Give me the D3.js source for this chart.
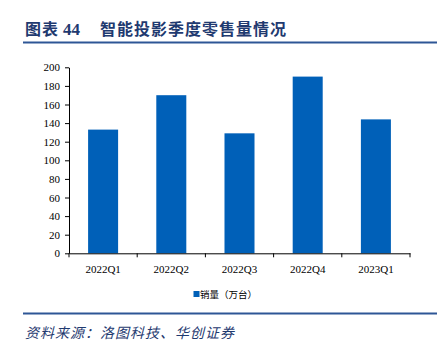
<!DOCTYPE html>
<html><head><meta charset="utf-8">
<script src="https://cdn.jsdelivr.net/npm/d3@7"></script>
<style>body{margin:0;background:#fff}svg{display:block}</style>
</head><body><div id="c"></div>
<script>
const categories = ["2022Q1","2022Q2","2022Q3","2022Q4","2023Q1"];
const sales = [133, 170, 129, 190, 144];
const yTicks = [0,20,40,60,80,100,120,140,160,180,200];
const seriesName = "销量（万台）";
const sourceText = "资料来源：洛图科技、华创证券";

const W = 445, H = 342;
const svg = d3.select("#c").append("svg").attr("width", W).attr("height", H);
const navy = "#1f3a70", lineCol = "#2e5696", barCol = "#0060b8";

const t = svg.append("text").attr("y", 35).attr("fill", navy)
  .attr("font-family", "'Noto Sans CJK SC', sans-serif").attr("font-weight", "bold")
  .attr("font-size", 16);
t.append("tspan").attr("x", 25).attr("letter-spacing", 1).text("图表");
t.append("tspan").attr("x", 63).attr("font-family","'Liberation Serif', serif").attr("font-size", 17).text("44");
t.append("tspan").attr("x", 100).attr("letter-spacing", 1).text("智能投影季度零售量情况");
svg.append("line").attr("x1", 23).attr("x2", 437).attr("y1", 42.5).attr("y2", 42.5)
  .attr("stroke", lineCol).attr("stroke-width", 2);

const x = d3.scaleBand().domain(categories).range([69, 410]).paddingInner(0.56).paddingOuter(0.28);
const y = d3.scaleLinear().domain([0, 200]).range([253.3, 67.3]);

svg.selectAll("rect.bar").data(sales).join("rect").attr("class","bar")
  .attr("x", (d,i) => x(categories[i])).attr("width", x.bandwidth())
  .attr("y", d => y(d)).attr("height", d => y(0) - y(d)).attr("fill", barCol);

const yAxis = svg.append("g").attr("transform", "translate(69,0)")
  .call(d3.axisLeft(y).tickValues(yTicks).tickSize(4).tickSizeOuter(0));
const xb = d3.scaleBand().domain(categories).range([69, 410]);
const xAxis = svg.append("g").attr("transform", `translate(0,${y(0)})`)
  .call(d3.axisBottom(xb).tickSize(0).tickSizeOuter(0));
const bounds = categories.map(c => xb(c)).concat([410]);
svg.selectAll("line.bt").data(bounds).join("line").attr("class","bt")
  .attr("x1", d=>d).attr("x2", d=>d).attr("y1", y(0)).attr("y2", y(0)+4)
  .attr("stroke", "#000").attr("stroke-width", 1);
[yAxis, xAxis].forEach(g => {
  g.selectAll("path").attr("stroke", "#000").attr("stroke-width", 1);
  g.selectAll("line").attr("stroke", "#000");
  g.selectAll("text").attr("font-family", "'Liberation Serif', serif").attr("font-size", 11).attr("fill", "#000");
});
yAxis.selectAll("text").attr("x", -9);
xAxis.selectAll("text").attr("dy", "1.55em");

svg.append("rect").attr("x", 193.5).attr("y", 291).attr("width", 6).attr("height", 6).attr("fill", barCol);
svg.append("text").attr("x", 200).attr("y", 298).attr("font-family", "'Noto Sans CJK SC', sans-serif")
  .attr("font-size", 9.5).attr("fill", "#000").text(seriesName);

svg.append("line").attr("x1", 23).attr("x2", 437).attr("y1", 313.5).attr("y2", 313.5)
  .attr("stroke", lineCol).attr("stroke-width", 2);
svg.append("text").attr("x", 25).attr("y", 338).attr("fill", navy)
  .attr("font-family", "'Noto Sans CJK SC', sans-serif").attr("font-style", "italic")
  .attr("font-size", 14).attr("letter-spacing", 1).text(sourceText);
</script></body></html>
